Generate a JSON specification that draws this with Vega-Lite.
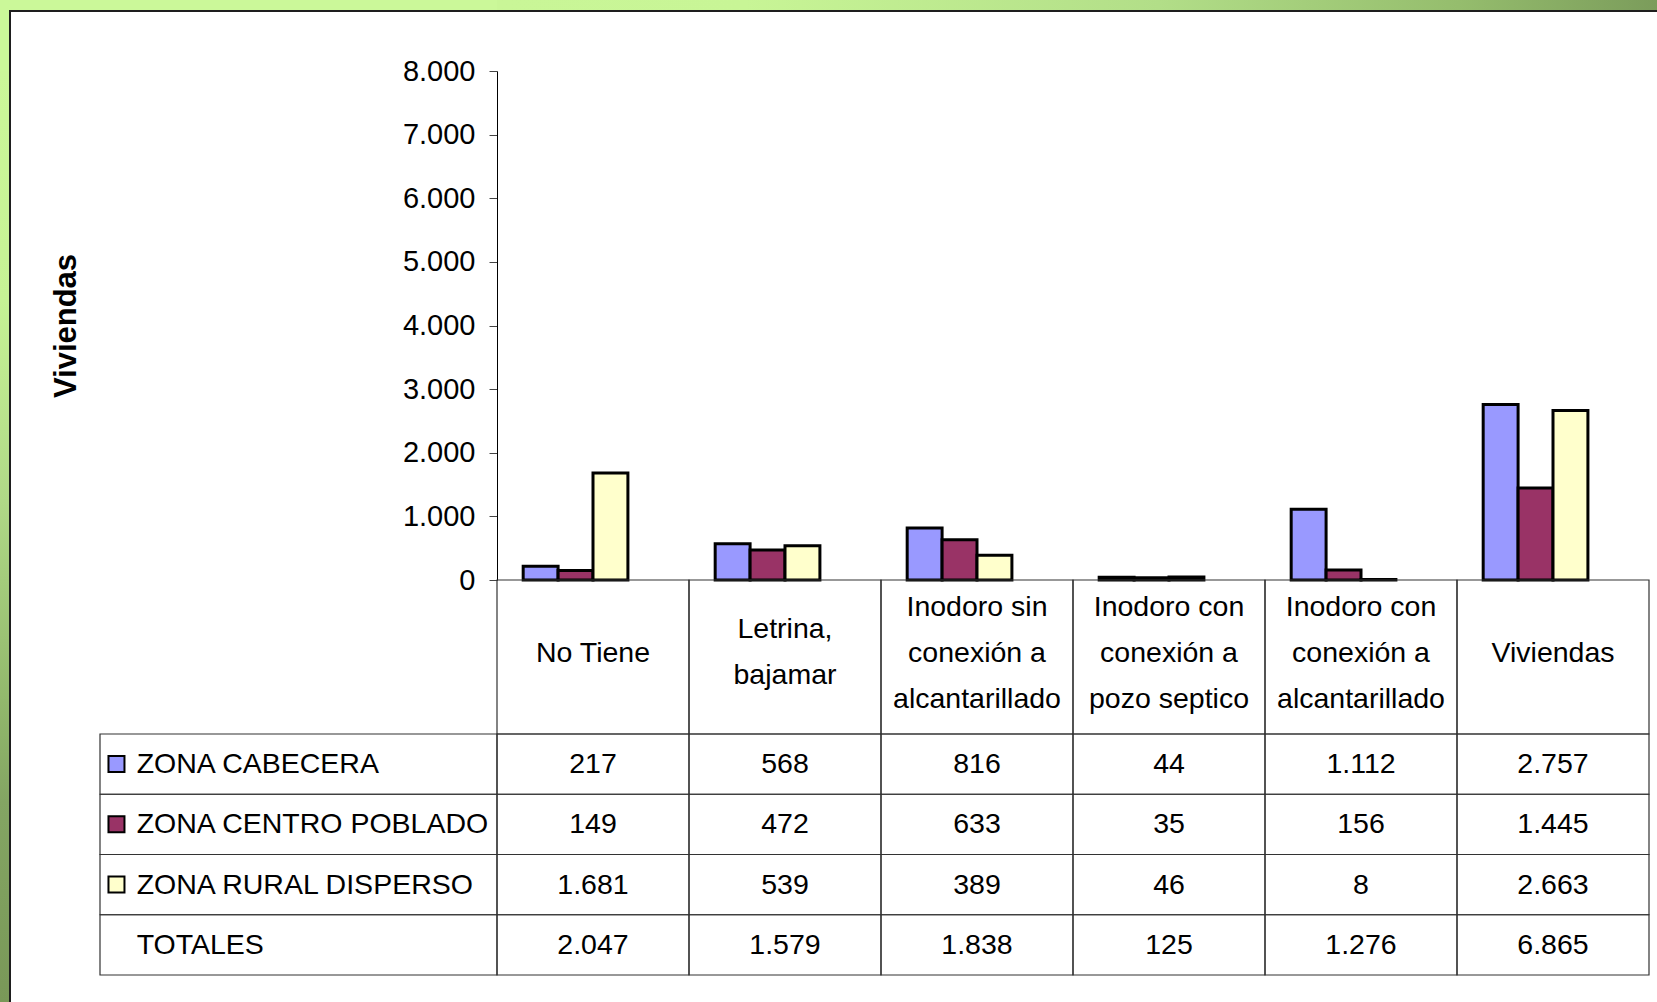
{
  "$schema": "https://vega.github.io/schema/vega-lite/v6.json",
  "padding": 0,
  "background": "white",
  "spacing": 0,
  "columns": 4,
  "bounds": "flush",
  "align": "each",
  "resolve": {"scale": {"x": "independent", "y": "independent", "color": "independent", "xOffset": "independent"}},
  "datasets": {
    "datos": [
      {"cat": "No Tiene", "zona": "ZONA CABECERA", "value": 217},
      {"cat": "Letrina, bajamar", "zona": "ZONA CABECERA", "value": 568},
      {"cat": "Inodoro sin conexión a alcantarillado", "zona": "ZONA CABECERA", "value": 816},
      {"cat": "Inodoro con conexión a pozo septico", "zona": "ZONA CABECERA", "value": 44},
      {"cat": "Inodoro con conexión a alcantarillado", "zona": "ZONA CABECERA", "value": 1112},
      {"cat": "Viviendas", "zona": "ZONA CABECERA", "value": 2757},
      {"cat": "No Tiene", "zona": "ZONA CENTRO POBLADO", "value": 149},
      {"cat": "Letrina, bajamar", "zona": "ZONA CENTRO POBLADO", "value": 472},
      {"cat": "Inodoro sin conexión a alcantarillado", "zona": "ZONA CENTRO POBLADO", "value": 633},
      {"cat": "Inodoro con conexión a pozo septico", "zona": "ZONA CENTRO POBLADO", "value": 35},
      {"cat": "Inodoro con conexión a alcantarillado", "zona": "ZONA CENTRO POBLADO", "value": 156},
      {"cat": "Viviendas", "zona": "ZONA CENTRO POBLADO", "value": 1445},
      {"cat": "No Tiene", "zona": "ZONA RURAL DISPERSO", "value": 1681},
      {"cat": "Letrina, bajamar", "zona": "ZONA RURAL DISPERSO", "value": 539},
      {"cat": "Inodoro sin conexión a alcantarillado", "zona": "ZONA RURAL DISPERSO", "value": 389},
      {"cat": "Inodoro con conexión a pozo septico", "zona": "ZONA RURAL DISPERSO", "value": 46},
      {"cat": "Inodoro con conexión a alcantarillado", "zona": "ZONA RURAL DISPERSO", "value": 8},
      {"cat": "Viviendas", "zona": "ZONA RURAL DISPERSO", "value": 2663},
      {"cat": "No Tiene", "zona": "TOTALES", "value": 2047},
      {"cat": "Letrina, bajamar", "zona": "TOTALES", "value": 1579},
      {"cat": "Inodoro sin conexión a alcantarillado", "zona": "TOTALES", "value": 1838},
      {"cat": "Inodoro con conexión a pozo septico", "zona": "TOTALES", "value": 125},
      {"cat": "Inodoro con conexión a alcantarillado", "zona": "TOTALES", "value": 1276},
      {"cat": "Viviendas", "zona": "TOTALES", "value": 6865}
    ],
    "categorias": [
      {"cat": "No Tiene", "label": "No Tiene"},
      {"cat": "Letrina, bajamar", "label": "Letrina,\nbajamar"},
      {"cat": "Inodoro sin conexión a alcantarillado", "label": "Inodoro sin\nconexión a\nalcantarillado"},
      {"cat": "Inodoro con conexión a pozo septico", "label": "Inodoro con\nconexión a\npozo septico"},
      {"cat": "Inodoro con conexión a alcantarillado", "label": "Inodoro con\nconexión a\nalcantarillado"},
      {"cat": "Viviendas", "label": "Viviendas"}
    ],
    "zonas": [
      {"zona": "ZONA CABECERA"},
      {"zona": "ZONA CENTRO POBLADO"},
      {"zona": "ZONA RURAL DISPERSO"},
      {"zona": "TOTALES"}
    ]
  },
  "concat": [
    {"width": 9, "height": 10, "data": {"values": [{}]}, "mark": {"type": "rect", "fill": "#cbf899", "strokeWidth": 0}, "encoding": {}},
    {"width": 2, "height": 10, "data": {"values": [{}]}, "mark": {"type": "rect", "fill": "#cbf899", "strokeWidth": 0}, "encoding": {}},
    {"width": 486, "height": 10, "data": {"values": [{}]}, "mark": {"type": "rect", "fill": "#cbf899", "strokeWidth": 0}, "encoding": {}},
    {"width": 1160, "height": 10, "data": {"values": [{}]}, "mark": {"type": "rect", "strokeWidth": 0, "fill": {"gradient": "linear", "x1": 0, "y1": 0, "x2": 1, "y2": 0, "stops": [{"offset": 0, "color": "#c9f697"}, {"offset": 0.214, "color": "#c8f596"}, {"offset": 0.571, "color": "#b2de88"}, {"offset": 0.829, "color": "#95bd6d"}, {"offset": 1, "color": "#7b9c5b"}]}}, "encoding": {}},

    {"width": 9, "height": 2, "data": {"values": [{}]}, "mark": {"type": "rect", "fill": "#cbf899", "strokeWidth": 0}, "encoding": {}},
    {"width": 2, "height": 2, "data": {"values": [{}]}, "mark": {"type": "rect", "fill": "#1e1e1e", "strokeWidth": 0}, "encoding": {}},
    {"width": 486, "height": 2, "data": {"values": [{}]}, "mark": {"type": "rect", "fill": "#1e1e1e", "strokeWidth": 0}, "encoding": {}},
    {"width": 1160, "height": 2, "data": {"values": [{}]}, "mark": {"type": "rect", "fill": "#1e1e1e", "strokeWidth": 0}, "encoding": {}},

    {"width": 9, "height": 59, "data": {"values": [{}]}, "mark": {"type": "rect", "fill": "#cbf899", "strokeWidth": 0}, "encoding": {}},
    {"width": 2, "height": 59, "data": {"values": [{}]}, "mark": {"type": "rect", "fill": "#1e1e1e", "strokeWidth": 0}, "encoding": {}},
    {"width": 486, "height": 59, "data": {"values": [{}]}, "mark": {"type": "text", "text": ""}},
    {"width": 1160, "height": 59, "data": {"values": [{}]}, "mark": {"type": "text", "text": ""}},

    {"width": 9, "height": 509, "data": {"values": [{}]}, "mark": {"type": "rect", "strokeWidth": 0, "fill": {"gradient": "linear", "x1": 0, "y1": 0, "x2": 0, "y2": 1, "stops": [{"offset": 0, "color": "#cbf799"}, {"offset": 0.451, "color": "#c6f295"}, {"offset": 0.845, "color": "#b0d987"}, {"offset": 1, "color": "#a4cc7c"}]}}, "encoding": {}},
    {"width": 2, "height": 509, "data": {"values": [{}]}, "mark": {"type": "rect", "fill": "#1e1e1e", "strokeWidth": 0}, "encoding": {}},
    {"width": 486, "height": 509, "data": {"values": [{}]}, "mark": {"type": "text", "text": ""}},
    {
      "width": 1160,
      "height": 509,
      "data": {"name": "datos"},
      "transform": [{"filter": "datum.zona !== 'TOTALES'"}],
      "mark": {"type": "bar", "stroke": "#000", "strokeWidth": 3},
      "encoding": {
        "x": {"field": "cat", "type": "nominal", "scale": {"domain": ["No Tiene", "Letrina, bajamar", "Inodoro sin conexión a alcantarillado", "Inodoro con conexión a pozo septico", "Inodoro con conexión a alcantarillado", "Viviendas"], "paddingInner": 0, "paddingOuter": 0.02083, "align": 0}, "axis": null},
        "xOffset": {"field": "zona", "type": "nominal", "scale": {"domain": ["ZONA CABECERA", "ZONA CENTRO POBLADO", "ZONA RURAL DISPERSO", "TOTALES"], "paddingInner": 0, "paddingOuter": 0.75}},
        "y": {
          "field": "value", "type": "quantitative",
          "scale": {"domain": [0, 8000], "nice": false},
          "axis": {
            "title": "Viviendas", "values": [0, 1000, 2000, 3000, 4000, 5000, 6000, 7000, 8000], "format": ",d",
            "grid": false, "domainColor": "#000", "domainWidth": 1, "tickColor": "#444", "tickSize": 8, "tickWidth": 1,
            "labelFont": "Liberation Sans", "labelFontSize": 29, "labelColor": "#000", "labelPadding": 14,
            "titleFont": "Liberation Sans", "titleFontSize": 31, "titleFontWeight": "bold", "titleColor": "#000",
            "titleX": -431, "titleY": 254.5, "titleAngle": -90, "titleAlign": "center", "titleBaseline": "middle"
          }
        },
        "color": {"field": "zona", "type": "nominal", "scale": {"domain": ["ZONA CABECERA", "ZONA CENTRO POBLADO", "ZONA RURAL DISPERSO"], "range": ["#9999ff", "#993366", "#ffffcc"]}, "legend": null}
      }
    },

    {"width": 9, "height": 154, "data": {"values": [{}]}, "mark": {"type": "rect", "strokeWidth": 0, "fill": {"gradient": "linear", "x1": 0, "y1": 0, "x2": 0, "y2": 1, "stops": [{"offset": 0, "color": "#a4cc7c"}, {"offset": 0.788, "color": "#92b86c"}, {"offset": 1, "color": "#8db269"}]}}, "encoding": {}},
    {"width": 2, "height": 154, "data": {"values": [{}]}, "mark": {"type": "rect", "fill": "#1e1e1e", "strokeWidth": 0}, "encoding": {}},
    {"width": 486, "height": 154, "data": {"values": [{}]}, "mark": {"type": "text", "text": ""}},
    {
      "width": 1160,
      "height": 154,
      "data": {"name": "categorias"},
      "encoding": {
        "x": {"field": "cat", "type": "nominal", "scale": {"domain": ["No Tiene", "Letrina, bajamar", "Inodoro sin conexión a alcantarillado", "Inodoro con conexión a pozo septico", "Inodoro con conexión a alcantarillado", "Viviendas"], "paddingInner": 0, "paddingOuter": 0.02083, "align": 0}, "axis": null}
      },
      "layer": [
        {"mark": {"type": "rect", "fill": "transparent", "stroke": "#333", "strokeWidth": 1.2}},
        {"transform": [{"filter": "indexof(datum.label, '\\n') < 0"}],
         "mark": {"type": "text", "font": "Liberation Sans", "fontSize": 28.5, "lineHeight": 46, "lineBreak": "\n", "baseline": "middle", "align": "center", "color": "#000", "dy": -4},
         "encoding": {"text": {"field": "label", "type": "nominal"}}},
        {"transform": [{"filter": "indexof(datum.label, '\\n') >= 0 && indexof(datum.label, '\\n') == lastindexof(datum.label, '\\n')"}],
         "mark": {"type": "text", "font": "Liberation Sans", "fontSize": 28.5, "lineHeight": 46, "lineBreak": "\n", "baseline": "middle", "align": "center", "color": "#000", "dy": -28},
         "encoding": {"text": {"field": "label", "type": "nominal"}}},
        {"transform": [{"filter": "indexof(datum.label, '\\n') >= 0 && indexof(datum.label, '\\n') != lastindexof(datum.label, '\\n')"}],
         "mark": {"type": "text", "font": "Liberation Sans", "fontSize": 28.5, "lineHeight": 46, "lineBreak": "\n", "baseline": "middle", "align": "center", "color": "#000", "dy": -50},
         "encoding": {"text": {"field": "label", "type": "nominal"}}}
      ]
    },

    {"width": 9, "height": 268, "data": {"values": [{}]}, "mark": {"type": "rect", "strokeWidth": 0, "fill": {"gradient": "linear", "x1": 0, "y1": 0, "x2": 0, "y2": 1, "stops": [{"offset": 0, "color": "#8db269"}, {"offset": 0.252, "color": "#84a563"}, {"offset": 1, "color": "#799858"}]}}, "encoding": {}},
    {"width": 2, "height": 268, "data": {"values": [{}]}, "mark": {"type": "rect", "fill": "#1e1e1e", "strokeWidth": 0}, "encoding": {}},
    {
      "width": 486,
      "height": 268,
      "data": {"name": "zonas"},
      "encoding": {
        "y": {"field": "zona", "type": "nominal", "scale": {"domain": ["ZONA CABECERA", "ZONA CENTRO POBLADO", "ZONA RURAL DISPERSO", "TOTALES"], "paddingInner": 0, "paddingOuter": 0.22407, "align": 0}, "axis": null}
      },
      "layer": [
        {"mark": {"type": "rect", "fill": "transparent", "stroke": "#333", "strokeWidth": 1.2},
         "encoding": {"x": {"datum": "Zona", "type": "nominal", "scale": {"domain": ["Zona"], "paddingInner": 0, "paddingOuter": 0.11209, "align": 1}, "axis": null}}},
        {"transform": [{"filter": "datum.zona !== 'TOTALES'"}],
         "mark": {"type": "point", "shape": "square", "filled": true, "size": 256, "stroke": "#000", "strokeWidth": 2, "opacity": 1},
         "encoding": {
           "x": {"datum": "Zona", "type": "nominal", "bandPosition": 0.0415},
           "color": {"field": "zona", "type": "nominal", "scale": {"domain": ["ZONA CABECERA", "ZONA CENTRO POBLADO", "ZONA RURAL DISPERSO"], "range": ["#9999ff", "#993366", "#ffffcc"]}, "legend": null}
         }},
        {"mark": {"type": "text", "font": "Liberation Sans", "fontSize": 28.5, "align": "left", "baseline": "middle", "color": "#000"},
         "encoding": {"x": {"datum": "Zona", "type": "nominal", "bandPosition": 0.0923}, "text": {"field": "zona", "type": "nominal"}}}
      ]
    },
    {
      "width": 1160,
      "height": 268,
      "data": {"name": "datos"},
      "encoding": {
        "x": {"field": "cat", "type": "nominal", "scale": {"domain": ["No Tiene", "Letrina, bajamar", "Inodoro sin conexión a alcantarillado", "Inodoro con conexión a pozo septico", "Inodoro con conexión a alcantarillado", "Viviendas"], "paddingInner": 0, "paddingOuter": 0.02083, "align": 0}, "axis": null},
        "y": {"field": "zona", "type": "nominal", "scale": {"domain": ["ZONA CABECERA", "ZONA CENTRO POBLADO", "ZONA RURAL DISPERSO", "TOTALES"], "paddingInner": 0, "paddingOuter": 0.22407, "align": 0}, "axis": null}
      },
      "layer": [
        {"mark": {"type": "rect", "fill": "transparent", "stroke": "#333", "strokeWidth": 1.2}},
        {"mark": {"type": "text", "font": "Liberation Sans", "fontSize": 28.5, "align": "center", "baseline": "middle", "color": "#000"},
         "encoding": {"text": {"field": "value", "type": "quantitative", "format": ",d"}}}
      ]
    }
  ],
  "config": {
    "view": {"stroke": null},
    "font": "Liberation Sans",
    "locale": {"number": {"decimal": ",", "thousands": ".", "grouping": [3], "currency": ["$", ""]}}
  }
}
